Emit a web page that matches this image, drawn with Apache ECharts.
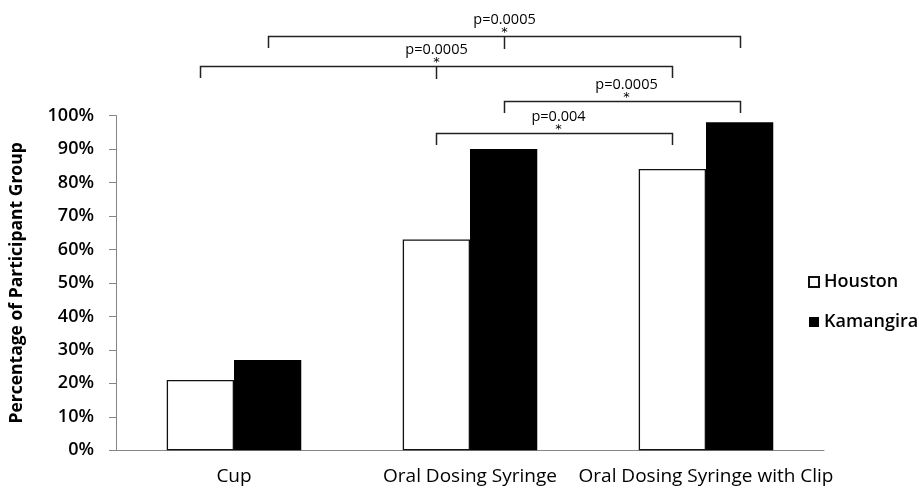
<!DOCTYPE html>
<html><head><meta charset="utf-8">
<script src="https://cdn.jsdelivr.net/npm/echarts@6/dist/echarts.min.js"></script>
<style>html,body{margin:0;padding:0;background:#fff}#c{width:919px;height:493px}</style>
</head><body><div id="c"></div>
<script>
// ---- data ----
const categories = ['Cup', 'Oral Dosing Syringe', 'Oral Dosing Syringe with Clip'];
const seriesNames = ['Houston', 'Kamangira'];
const houston = [21, 63, 84];
const kamangira = [27, 90, 98];
const yMin = 0, yMax = 100, yStep = 10;
// significance brackets: ends reference bars as [categoryIndex, seriesIndex]
const bracketFrom = [[0, 1], [0, 0], [1, 1], [1, 0]];
const bracketTo   = [[2, 1], [2, 0], [2, 1], [2, 0]];
const bracketMid  = [[1, 1], [1, 0], null, null];
const bracketLevel = [123.6, 114.9, 104.3, 94.8];   // in % of the y scale
const bracketLabel = ['p=0.0005', 'p=0.0005', 'p=0.0005', 'p=0.004'];

const FONT = 'Open Sans';
const chart = echarts.init(document.getElementById('c'), null, {renderer: 'canvas'});
chart.setOption({
  animation: false,
  backgroundColor: '#fff',
  textStyle: {fontFamily: FONT},
  grid: {left: 108, right: 95, top: 115.5, bottom: 42.7, containLabel: false},
  legend: {
    orient: 'vertical', left: 803, top: 268,
    icon: 'rect', itemWidth: 10, itemHeight: 10, itemGap: 22,
    textStyle: {fontFamily: FONT, fontSize: 18, fontWeight: 600, color: '#000', lineHeight: 18},
    data: seriesNames
  },
  xAxis: {
    type: 'category', data: categories,
    axisLine: {lineStyle: {color: '#868686', width: 1}},
    axisTick: {length: 7, lineStyle: {color: '#868686'}},
    axisLabel: {fontFamily: FONT, fontSize: 19, color: '#000', margin: 17, interval: 0}
  },
  yAxis: {
    type: 'value', min: yMin, max: yMax, interval: yStep,
    name: 'Percentage of Participant Group', nameLocation: 'middle', nameGap: 90,
    nameTextStyle: {fontFamily: FONT, fontSize: 17.5, fontWeight: 'bold', color: '#000'},
    axisLine: {show: true, lineStyle: {color: '#868686', width: 1}},
    axisTick: {show: true, length: 7, lineStyle: {color: '#868686'}},
    splitLine: {show: false},
    axisLabel: {fontFamily: FONT, fontSize: 18, fontWeight: 600, color: '#000', margin: 22,
      formatter: v => v + '%'}
  },
  series: [
    {name: seriesNames[0], type: 'bar', data: houston, barGap: '0%', barCategoryGap: '43%',
     itemStyle: {color: '#fff', borderColor: '#111', borderWidth: 1.3}},
    {name: seriesNames[1], type: 'bar', data: kamangira, barGap: '0%', barCategoryGap: '43%',
     itemStyle: {color: '#000', borderColor: '#000', borderWidth: 0}}
  ]
});

function barCenterX(ref) {
  const lay = chart.getModel().getSeriesByIndex(ref[1]).getData().getItemLayout(ref[0]);
  return lay.x + lay.width / 2;
}
const elements = [];
const drop = 11.5;
const lineStyle = {stroke: '#222', lineWidth: 1.5, fill: null};
bracketLevel.forEach((lv, i) => {
  const y = Math.round(chart.convertToPixel({yAxisIndex: 0}, lv)) + 0.5;
  const x1 = Math.round(barCenterX(bracketFrom[i])) + 0.5;
  const x2 = Math.round(barCenterX(bracketTo[i])) + 0.5;
  elements.push({type: 'polyline', silent: true,
    shape: {points: [[x1, y + drop], [x1, y], [x2, y], [x2, y + drop]]}, style: lineStyle});
  let cx = (x1 + x2) / 2;
  if (bracketMid[i]) {
    cx = Math.round(barCenterX(bracketMid[i])) + 0.5;
    elements.push({type: 'line', silent: true,
      shape: {x1: cx, y1: y, x2: cx, y2: y + drop + 1}, style: lineStyle});
  } else {
    cx += 4;
  }
  elements.push({type: 'text', silent: true, x: cx, y: y - 17,
    style: {text: bracketLabel[i], fontFamily: FONT, fontSize: 14.5, fill: '#000',
      align: 'center', verticalAlign: 'middle'}});
  elements.push({type: 'text', silent: true, x: cx, y: y - 4,
    style: {text: '*', fontFamily: 'DejaVu Sans', fontSize: 13, fill: '#000',
      align: 'center', verticalAlign: 'middle'}});
});
chart.setOption({graphic: {elements: elements}});
</script>
</body></html>
